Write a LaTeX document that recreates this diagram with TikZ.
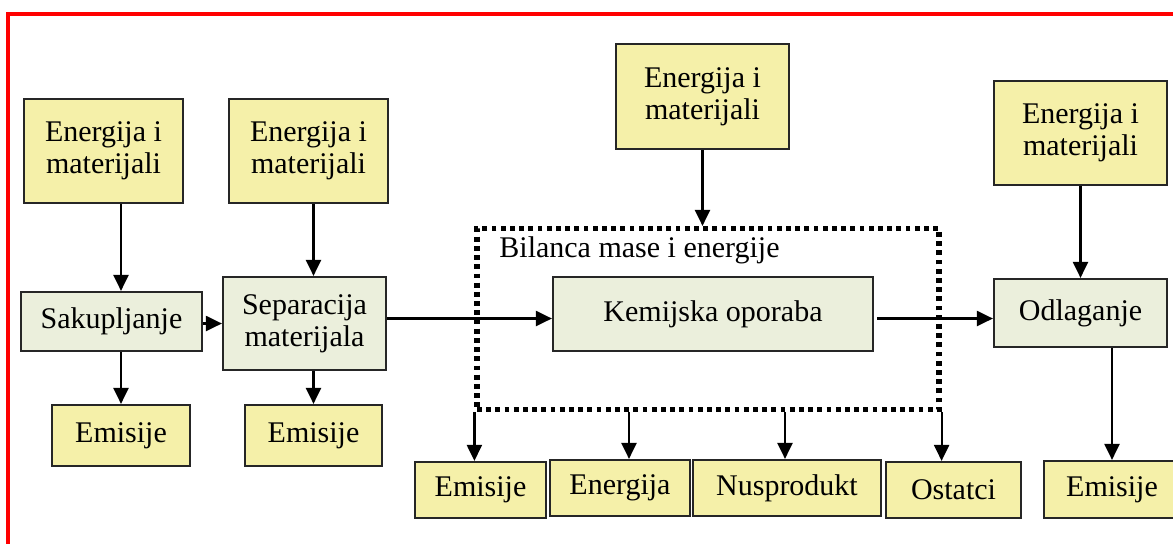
\documentclass[tikz,border=0pt]{standalone}
\usepackage{fontspec}
\setmainfont{Liberation Serif}
\usetikzlibrary{arrows.meta}
\definecolor{boxY}{HTML}{F5F0A9}
\definecolor{boxG}{HTML}{EBEFDC}
\definecolor{edgec}{HTML}{262626}
\definecolor{frame}{HTML}{FF0000}
\begin{document}
\begin{tikzpicture}[x=0.5pt,y=-0.5pt,
  box/.style={draw=edgec, line width=1.1pt, inner sep=0pt, align=center,
    font=\fontsize{15}{16}\selectfont},
  ybox/.style={box, fill=boxY},
  gbox/.style={box, fill=boxG},
  sz/.style 2 args={minimum width=#1*0.5pt, minimum height=#2*0.5pt},
  arr/.style={-{Triangle[width=7.5pt,length=8pt]}, line width=1.1pt, draw=black},
  dotbox/.style={draw=black, line width=2.6pt, dash pattern=on 2.4pt off 2.2pt, inner sep=0pt},
  lbl/.style={inner sep=0pt, font=\fontsize{15}{16}\selectfont}]
\useasboundingbox (0,0) rectangle (1173,543);
\clip (0,0) rectangle (1173,543);
\fill[white] (0,0) rectangle (1173,543);
% red frame
\draw[frame, line width=1.8pt] (8,560) -- (8,14) -- (1190,14);

% dotted system boundary
\node[dotbox, sz={462}{181}] (bil) at (708,319) {};
\node[lbl, anchor=west] (bill) at (499,250) {Bilanca mase i energije};

% inputs
\node[ybox, sz={159}{104}] (E1) at (103.5,151) {Energija i\\materijali};
\node[ybox, sz={159}{104}] (E2) at (308.5,151) {Energija i\\materijali};
\node[ybox, sz={173}{105}] (E3) at (702.5,96.5) {Energija i\\materijali};
\node[ybox, sz={173}{104}] (E4) at (1080.5,133) {Energija i\\materijali};

% processes
\node[gbox, sz={181}{59}] (Sak) at (111.5,321.5) {Sakupljanje};
\node[gbox, sz={163}{93}] (Sep) at (304.5,323.5) {Separacija\\materijala};
\node[gbox, sz={320}{74}] (Kem) at (713,314) {Kemijska oporaba};
\node[gbox, sz={173}{68}] (Odl) at (1080.5,313) {Odlaganje};

% outputs
\node[ybox, sz={138}{61}] (Em1) at (121,435.5) {Emisije};
\node[ybox, sz={137}{61}] (Em2) at (313.5,435.5) {Emisije};
\node[ybox, sz={131}{56}] (Em3) at (480.5,490) {Emisije};
\node[ybox, sz={140}{56}] (Ene) at (620,488) {Energija};
\node[ybox, sz={188}{56}] (Nus) at (787,488) {Nusprodukt};
\node[ybox, sz={135}{56}] (Ost) at (953.5,490) {Ostatci};
\node[ybox, sz={136}{57}] (Em5) at (1112,489.5) {Emisije};

\coordinate (flow) at (0,318.5);

% connectors
\draw[arr] (E1.south -| Em1.center) -- (Sak.north -| Em1.center);
\draw[arr] (Sak.south -| Em1.center) -- (Em1.north);
\draw[arr] (E2.south -| Em2.center) -- (Sep.north -| Em2.center);
\draw[arr] (Sep.south -| Em2.center) -- (Em2.north);
\draw[arr] (Sak.east |- Sep.center) -- (Sep.west);
\draw[arr] (Sep.east |- flow) -- (Kem.west |- flow);
\draw[arr] ([xshift=1.5pt]Kem.east |- flow) -- (Odl.west |- flow);
\draw[arr] (E3.south) -- (E3.south |- bil.north);
\draw[arr] (E4.south) -- (Odl.north);
\draw[arr] (Odl.south -| Em5.center) -- (Em5.north);
\draw[arr] (bil.south west) -- (bil.south west |- Em3.north);
\draw[arr] ([xshift=4.5pt]bil.south -| Ene.center) -- ([xshift=4.5pt]Ene.north);
\draw[arr] ([xshift=-1pt]bil.south -| Nus.center) -- ([xshift=-1pt]Nus.north);
\draw[arr] (bil.south east) -- (bil.south east |- Ost.north);
\end{tikzpicture}
\end{document}
